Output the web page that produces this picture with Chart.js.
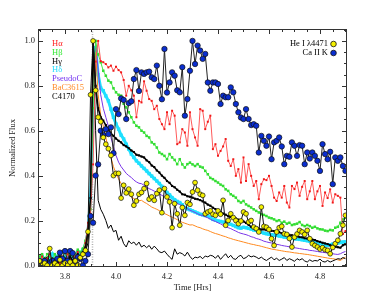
<!DOCTYPE html>
<html>
<head>
<meta charset="utf-8">
<script src="https://cdn.jsdelivr.net/npm/chart.js@4.4.0/dist/chart.umd.min.js"></script>
<style>
  html, body { margin: 0; padding: 0; background: #fff; }
</style>
</head>
<body>
<canvas id="flux-canvas" width="385" height="298"></canvas>
<script>
// time grid (hours)
const times = [
  3.70,3.71,3.72,3.73,3.74,3.75,3.76,3.77,3.78,3.79,
  3.80,3.81,3.82,3.83,3.84,3.85,3.86,3.87,3.88,3.89,
  3.90,3.91,3.92,3.93,3.94,3.95,3.96,3.97,3.98,3.99,
  4.00,4.01,4.02,4.03,4.04,4.05,4.06,4.07,4.08,4.09,
  4.10,4.11,4.12,4.13,4.14,4.15,4.16,4.17,4.18,4.19,
  4.20,4.21,4.22,4.23,4.24,4.25,4.26,4.27,4.28,4.29,
  4.30,4.31,4.32,4.33,4.34,4.35,4.36,4.37,4.38,4.39,
  4.40,4.41,4.42,4.43,4.44,4.45,4.46,4.47,4.48,4.49,
  4.50,4.51,4.52,4.53,4.54,4.55,4.56,4.57,4.58,4.59,
  4.60,4.61,4.62,4.63,4.64,4.65,4.66,4.67,4.68,4.69,
  4.70,4.71,4.72,4.73,4.74,4.75,4.76,4.77,4.78,4.79,
  4.80,4.81,4.82,4.83,4.84,4.85,4.86,4.87,4.88,4.89,
  4.90
];

const h_alpha = [
  0.02,0.04,0.01,0.03,0.05,0.02,0.0,0.03,0.01,0.04,
  0.02,0.05,0.03,0.01,0.04,0.06,0.03,0.05,0.10,0.19,
  0.23,0.45,0.908,1.0,0.91,0.905,0.897,0.882,0.89,0.867,
  0.885,0.87,0.86,0.826,0.756,0.80,0.78,0.756,0.66,0.733,
  0.726,0.82,0.778,0.741,0.733,0.696,0.711,0.652,0.629,0.607,
  0.682,0.629,0.689,0.667,0.54,0.548,0.607,0.592,0.533,0.682,
  0.607,0.57,0.533,0.696,0.689,0.607,0.64,0.667,0.518,0.54,
  0.488,0.51,0.53,0.563,0.466,0.443,0.473,0.399,0.429,0.369,
  0.481,0.376,0.451,0.399,0.354,0.376,0.295,0.362,0.384,0.38,
  0.399,0.354,0.302,0.287,0.325,0.302,0.354,0.28,0.258,0.354,
  0.34,0.369,0.31,0.35,0.376,0.295,0.33,0.376,0.295,0.33,
  0.354,0.265,0.325,0.30,0.339,0.28,0.317,0.31,0.302,0.14,
  0.153
];

const h_beta = [
  0.04,0.05,0.03,0.05,0.04,0.02,0.05,0.03,0.04,0.06,
  0.03,0.05,0.04,0.06,0.05,0.07,0.06,0.075,0.11,0.16,
  0.25,0.70,1.0,0.94,0.905,0.867,0.845,0.823,0.815,0.789,
  0.771,0.76,0.756,0.72,0.704,0.682,0.66,0.637,0.622,0.615,
  0.60,0.592,0.577,0.57,0.548,0.54,0.525,0.503,0.496,0.488,
  0.473,0.496,0.481,0.47,0.451,0.473,0.45,0.436,0.451,0.458,
  0.45,0.443,0.451,0.44,0.436,0.421,0.406,0.39,0.384,0.376,
  0.369,0.36,0.354,0.339,0.332,0.317,0.31,0.302,0.287,0.28,
  0.287,0.272,0.265,0.258,0.25,0.243,0.236,0.228,0.225,0.22,
  0.213,0.21,0.205,0.198,0.201,0.19,0.195,0.186,0.19,0.18,
  0.183,0.186,0.193,0.18,0.175,0.18,0.175,0.168,0.172,0.165,
  0.161,0.16,0.155,0.153,0.158,0.156,0.168,0.172,0.19,0.205,
  0.213
];

const h_gamma = [
  0.02,0.01,0.03,0.02,0.0,0.03,0.01,0.02,0.04,0.02,
  0.03,0.01,0.04,0.02,0.03,0.05,0.04,0.06,0.08,0.15,
  0.30,1.0,0.80,0.70,0.66,0.645,0.625,0.605,0.59,0.577,
  0.565,0.555,0.548,0.536,0.53,0.522,0.512,0.505,0.493,0.49,
  0.485,0.481,0.468,0.46,0.445,0.438,0.423,0.414,0.40,0.39,
  0.376,0.368,0.354,0.348,0.337,0.329,0.317,0.315,0.308,0.306,
  0.302,0.297,0.295,0.291,0.285,0.28,0.271,0.266,0.257,0.251,
  0.243,0.238,0.231,0.226,0.219,0.216,0.212,0.209,0.204,0.202,
  0.196,0.189,0.181,0.172,0.169,0.165,0.164,0.16,0.161,0.157,
  0.156,0.154,0.153,0.149,0.148,0.143,0.142,0.138,0.136,0.134,
  0.131,0.13,0.126,0.125,0.121,0.12,0.118,0.115,0.113,0.108,
  0.105,0.101,0.098,0.095,0.09,0.087,0.083,0.081,0.079,0.09,
  0.094
];

const h_delta = [
  0.02,0.04,0.03,0.01,0.03,0.05,0.02,0.04,0.03,0.02,
  0.04,0.03,0.05,0.02,0.04,0.06,0.05,0.07,0.09,0.15,
  0.30,0.66,0.97,0.85,0.79,0.778,0.755,0.733,0.696,0.66,
  0.63,0.607,0.58,0.563,0.54,0.518,0.496,0.481,0.466,0.455,
  0.443,0.432,0.421,0.409,0.398,0.387,0.376,0.365,0.352,0.338,
  0.325,0.314,0.302,0.293,0.285,0.28,0.27,0.258,0.252,0.248,
  0.243,0.238,0.233,0.228,0.225,0.222,0.22,0.213,0.205,0.202,
  0.198,0.196,0.193,0.19,0.186,0.183,0.178,0.173,0.168,0.166,
  0.17,0.168,0.165,0.162,0.158,0.156,0.152,0.148,0.144,0.141,
  0.139,0.137,0.135,0.134,0.131,0.129,0.126,0.125,0.123,0.121,
  0.119,0.118,0.116,0.114,0.112,0.11,0.108,0.106,0.104,0.101,
  0.098,0.094,0.09,0.089,0.092,0.095,0.097,0.1,0.102,0.104,
  0.105
];

const pseudo_c = [
  0.01,0.03,0.02,0.0,0.02,0.01,0.03,0.02,0.01,0.03,
  0.02,0.04,0.01,0.03,0.02,0.04,0.03,0.05,0.08,0.14,
  0.28,0.75,0.99,0.87,0.76,0.70,0.66,0.62,0.57,0.53,
  0.49,0.46,0.44,0.425,0.41,0.40,0.392,0.38,0.372,0.366,
  0.364,0.357,0.349,0.342,0.337,0.331,0.326,0.32,0.312,0.306,
  0.30,0.295,0.288,0.284,0.276,0.271,0.266,0.261,0.253,0.246,
  0.241,0.236,0.23,0.225,0.222,0.217,0.212,0.206,0.2,0.196,
  0.19,0.185,0.179,0.173,0.168,0.164,0.158,0.153,0.147,0.143,
  0.14,0.137,0.133,0.128,0.125,0.12,0.117,0.113,0.108,0.105,
  0.102,0.1,0.096,0.094,0.092,0.089,0.087,0.085,0.083,0.081,
  0.079,0.077,0.075,0.073,0.071,0.07,0.067,0.066,0.064,0.062,
  0.06,0.058,0.057,0.055,0.053,0.052,0.05,0.049,0.052,0.058,
  0.062
];

const ba_c3615 = [
  0.01,0.02,0.0,0.02,0.01,0.03,0.01,0.02,0.0,0.02,
  0.01,0.03,0.02,0.01,0.03,0.02,0.04,0.05,0.07,0.12,
  0.30,0.85,0.95,0.76,0.67,0.62,0.57,0.52,0.48,0.44,
  0.41,0.385,0.365,0.345,0.33,0.316,0.305,0.298,0.292,0.288,
  0.29,0.282,0.276,0.268,0.26,0.255,0.25,0.244,0.238,0.231,
  0.226,0.22,0.215,0.21,0.204,0.197,0.192,0.188,0.184,0.18,
  0.181,0.176,0.171,0.168,0.163,0.159,0.156,0.151,0.146,0.142,
  0.139,0.135,0.131,0.128,0.123,0.12,0.116,0.113,0.11,0.107,
  0.104,0.101,0.098,0.095,0.093,0.09,0.088,0.085,0.082,0.079,
  0.076,0.073,0.071,0.069,0.067,0.065,0.063,0.061,0.06,0.058,
  0.056,0.055,0.053,0.052,0.05,0.049,0.047,0.045,0.043,0.041,
  0.039,0.037,0.035,0.033,0.031,0.03,0.028,0.025,0.022,0.03,
  0.037
];

const c4170 = [
  0.03,0.01,0.02,0.04,0.02,0.0,0.03,0.01,0.02,0.03,
  0.01,0.03,0.02,0.04,0.01,0.03,0.02,0.04,0.06,0.10,
  0.25,0.97,0.60,0.29,0.25,0.228,0.20,0.165,0.18,0.15,
  0.156,0.112,0.13,0.097,0.082,0.11,0.097,0.104,0.09,0.104,
  0.082,0.09,0.079,0.089,0.072,0.086,0.074,0.06,0.057,0.064,
  0.05,0.037,0.027,0.074,0.05,0.057,0.052,0.042,0.059,0.04,
  0.027,0.037,0.034,0.04,0.03,0.042,0.038,0.045,0.042,0.032,
  0.045,0.027,0.04,0.052,0.034,0.045,0.03,0.027,0.04,0.045,
  0.03,0.035,0.045,0.038,0.042,0.037,0.03,0.037,0.028,0.022,
  0.03,0.037,0.025,0.032,0.022,0.028,0.035,0.022,0.03,0.025,
  0.018,0.03,0.024,0.03,0.02,0.015,0.025,0.018,0.022,0.02,
  0.028,0.018,0.015,0.022,0.015,0.02,0.025,0.03,0.028,0.035,
  0.03
];

const he_4471 = [
  0.02,0.0,0.01,0.0,0.075,0.0,0.01,0.0,0.025,0.0,
  0.01,0.0,0.015,0.0,0.02,0.0,0.035,0.05,0.067,0.15,
  0.76,1.0,0.78,0.66,0.64,0.57,0.54,0.52,0.49,0.40,
  0.41,0.41,0.30,0.357,0.323,0.34,0.317,0.268,0.287,0.317,
  0.325,0.342,0.365,0.295,0.305,0.29,0.32,0.335,0.235,0.342,
  0.305,0.283,0.168,0.275,0.23,0.179,0.258,0.223,0.28,0.272,
  0.327,0.369,0.335,0.317,0.312,0.23,0.238,0.243,0.228,0.223,
  0.243,0.228,0.29,0.179,0.20,0.23,0.213,0.20,0.186,0.198,
  0.238,0.23,0.193,0.20,0.171,0.164,0.149,0.26,0.174,0.17,
  0.16,0.119,0.089,0.149,0.168,0.174,0.141,0.138,0.12,0.082,
  0.126,0.14,0.156,0.149,0.138,0.156,0.119,0.097,0.089,0.082,
  0.073,0.079,0.07,0.067,0.052,0.08,0.097,0.112,0.141,0.179,
  0.223
];

const ca_k = [
  0.02,0.01,0.02,0.0,0.01,0.02,0.01,0.03,0.057,0.03,
  0.064,0.02,0.064,0.055,0.008,0.037,0.03,0.0,0.02,0.05,
  0.22,0.19,0.40,0.45,0.60,0.58,0.607,0.585,0.615,0.50,
  0.696,0.674,0.744,0.737,0.652,0.723,0.731,0.83,0.87,0.777,
  0.86,0.853,0.86,0.863,0.838,0.83,0.89,0.80,0.74,0.964,
  0.77,0.815,0.86,0.845,0.78,0.771,0.883,0.667,0.741,0.867,
  1.0,0.897,0.979,0.957,0.92,0.942,0.815,0.778,0.815,0.815,
  0.808,0.719,0.756,0.749,0.749,0.793,0.771,0.719,0.682,0.659,
  0.652,0.696,0.652,0.625,0.629,0.622,0.503,0.577,0.555,0.533,
  0.574,0.473,0.548,0.555,0.57,0.53,0.451,0.488,0.484,0.548,
  0.533,0.488,0.536,0.533,0.451,0.503,0.476,0.503,0.488,0.466,
  0.421,0.54,0.496,0.473,0.506,0.362,0.481,0.466,0.481,0.443,
  0.421
];

// dotted marker of the flare peak
const peak_time = 3.906;

const serif = "'Liberation Serif', 'DejaVu Serif', serif";

const toPoints = (values) => values.map((v, i) => ({ x: times[i], y: v }));

const lineSet = (label, values, color, extra) => ({
  label: label,
  data: toPoints(values),
  borderColor: color,
  backgroundColor: color,
  borderWidth: 1,
  pointRadius: 0,
  tension: 0,
  ...extra,
});

// first dataset is drawn on top
const datasets = [
  lineSet("He I \u03bb4471", he_4471, "#111", {
    pointRadius: 2.4, pointStyle: "circle",
    pointBackgroundColor: "#f4f000", pointBorderColor: "#111", pointBorderWidth: 0.7,
  }),
  lineSet("Ca II K", ca_k, "#222", {
    pointRadius: 2.7, pointStyle: "circle",
    pointBackgroundColor: "#0a2ed0", pointBorderColor: "#111", pointBorderWidth: 0.7,
  }),
  lineSet("H\u03b3", h_gamma, "#000", {
    borderWidth: 1.5, pointRadius: 1.5, pointStyle: "rect", pointBorderWidth: 0,
  }),
  lineSet("H\u03b1", h_alpha, "#ff5a5a", {
    pointRadius: 1.4, pointStyle: "rect", pointBackgroundColor: "#f01818", pointBorderWidth: 0,
  }),
  lineSet("H\u03b2", h_beta, "#44e844", {
    pointRadius: 1.8, pointStyle: "rect", pointBackgroundColor: "#33dd33", pointBorderWidth: 0,
  }),
  lineSet("C4170", c4170, "#000"),
  lineSet("BaC3615", ba_c3615, "#ff8a20"),
  lineSet("PseudoC", pseudo_c, "#7a35e8"),
  lineSet("H\u03b4", h_delta, "#1ee0ff", {
    borderWidth: 3, pointRadius: 2.4, pointStyle: "rect", pointBorderWidth: 0,
  }),
];

const left_legend = [
  { text: "H\u03b1", color: "#ff2020" },
  { text: "H\u03b2", color: "#33e833" },
  { text: "H\u03b3", color: "#000" },
  { text: "H\u03b4", color: "#22ddff" },
  { text: "PseudoC", color: "#7433f0" },
  { text: "BaC3615", color: "#ff8c2a" },
  { text: "C4170", color: "#000" },
];
const right_legend = [
  { text: "He I \u03bb4471", fill: "#f4f000" },
  { text: "Ca II K", fill: "#0a2ed0" },
];

const framePlugin = {
  id: "frame",
  beforeDatasetsDraw(chart) {
    const { ctx, chartArea: a, scales: { x } } = chart;
    const px = Math.round(x.getPixelForValue(peak_time)) + 0.5;
    ctx.save();
    ctx.strokeStyle = "#b0b0b0";
    ctx.lineWidth = 1.5;
    ctx.setLineDash([1, 1.5]);
    ctx.beginPath();
    ctx.moveTo(px, a.top);
    ctx.lineTo(px, a.bottom);
    ctx.stroke();
    ctx.restore();
  },
  afterDraw(chart) {
    const { ctx, chartArea: a, scales: { x, y } } = chart;
    ctx.save();
    ctx.strokeStyle = "#333";
    ctx.lineWidth = 1;
    ctx.strokeRect(a.left + 0.5, a.top + 0.5, a.right - a.left - 1, a.bottom - a.top - 1);
    ctx.beginPath();
    for (let k = Math.ceil(x.min / 0.05); k * 0.05 <= x.max; k++) {
      const px = Math.round(x.getPixelForValue(k * 0.05)) + 0.5;
      const len = k % 4 === 0 ? 5 : 3;
      ctx.moveTo(px, a.bottom);
      ctx.lineTo(px, a.bottom - len);
      ctx.moveTo(px, a.top);
      ctx.lineTo(px, a.top + len);
    }
    for (let k = Math.ceil(y.min / 0.05); k * 0.05 <= y.max; k++) {
      const py = Math.round(y.getPixelForValue(k * 0.05)) + 0.5;
      const len = k % 4 === 0 ? 5 : 3;
      ctx.moveTo(a.left, py);
      ctx.lineTo(a.left + len, py);
      ctx.moveTo(a.right, py);
      ctx.lineTo(a.right - len, py);
    }
    ctx.stroke();

    // legends
    ctx.font = "8.5px " + serif;
    ctx.textBaseline = "middle";
    ctx.textAlign = "left";
    left_legend.forEach(({ text, color }, i) => {
      ctx.fillStyle = color;
      ctx.fillText(text, a.left + 14, a.top + 14.5 + i * 8.9);
    });
    ctx.textAlign = "right";
    right_legend.forEach(({ text, fill }, i) => {
      const ty = a.top + 15 + i * 9;
      ctx.fillStyle = "#000";
      ctx.fillText(text, a.right - 19, ty);
      ctx.beginPath();
      ctx.arc(a.right - 13.5, ty, 2.8, 0, Math.PI * 2);
      ctx.fillStyle = fill;
      ctx.fill();
      ctx.lineWidth = 0.8;
      ctx.strokeStyle = "#111";
      ctx.stroke();
    });
    ctx.restore();
  },
};

new Chart(document.getElementById("flux-canvas"), {
  type: "line",
  data: { datasets: datasets },
  options: {
    responsive: false,
    animation: false,
    devicePixelRatio: 1,
    layout: { padding: { top: 29, right: 38, left: 0, bottom: 0 } },
    plugins: { legend: { display: false }, tooltip: { enabled: false } },
    scales: {
      x: {
        type: "linear",
        min: 3.694,
        max: 4.906,
        afterFit: (s) => { s.height = 31; },
        grid: { drawOnChartArea: false, drawTicks: false },
        border: { display: false },
        ticks: {
          stepSize: 0.2,
          includeBounds: false,
          padding: 5,
          color: "#222",
          font: { family: serif, size: 8.5 },
          callback: (v) => v.toFixed(1),
        },
        title: {
          display: true,
          text: "Time [Hrs]",
          color: "#222",
          font: { family: serif, size: 8.5 },
          padding: { top: 0, bottom: 5 },
        },
      },
      y: {
        min: -0.007,
        max: 1.053,
        afterFit: (s) => { s.width = 38; },
        grid: { drawOnChartArea: false, drawTicks: false },
        border: { display: false },
        ticks: {
          stepSize: 0.2,
          includeBounds: false,
          padding: 3,
          color: "#222",
          font: { family: serif, size: 8.5 },
          callback: (v) => v.toFixed(1),
        },
        title: {
          display: true,
          text: "Normalized Flux",
          color: "#222",
          font: { family: serif, size: 8.5 },
          padding: { top: 8, bottom: 0 },
        },
      },
    },
  },
  plugins: [framePlugin],
});
</script>
</body>
</html>
